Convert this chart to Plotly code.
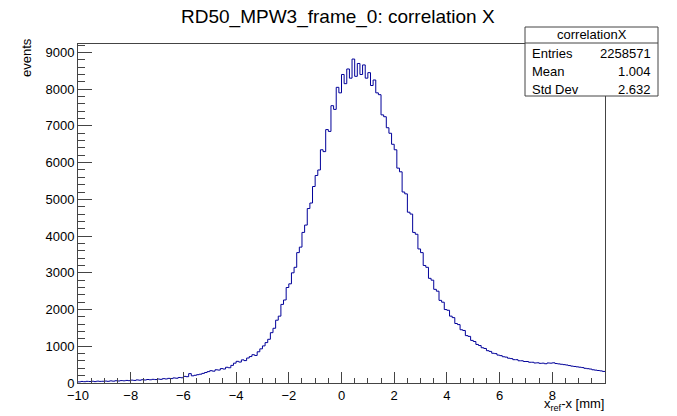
import numpy as np
import plotly.graph_objects as go

# histogram "correlationX": 200 bins of 0.1 mm from -10 to 10
bin_lo = -10.0
bin_width = 0.1
counts = [
    30, 42, 36, 45, 40, 48, 38, 50, 44, 47,            # -10 .. -9
    52, 46, 58, 50, 62, 55, 66, 60, 70, 64,            # -9 .. -8
    78, 70, 84, 76, 90, 82, 95, 88, 100, 94,           # -8 .. -7
    108, 100, 118, 110, 126, 120, 138, 130, 150, 142,  # -7 .. -6
    180, 172, 255, 195, 210, 226, 240, 262, 285, 310,  # -6 .. -5
    335, 322, 360, 352, 392, 380, 428, 415, 480, 540,  # -5 .. -4
    590, 570, 630, 610, 680, 720, 770, 750, 850, 930,  # -4 .. -3
    1010, 1100, 1190, 1370, 1490, 1710, 1820, 2140, 2260, 2600,  # -3 .. -2
    2700, 3000, 3150, 3550, 3700, 4100, 4300, 4750, 4900, 5350,  # -2 .. -1
    5650, 5800, 6350, 6300, 6900, 6850, 7550, 7450, 8050, 7900,  # -1 .. 0
    8400, 8150, 8550, 8300, 8820, 8350, 8700, 8400, 8660, 8300,  # 0 .. 1
    8450, 8100, 8250, 7900, 7850, 7300, 7250, 6950, 6800, 6500,  # 1 .. 2
    6350, 5850, 5750, 5200, 5150, 4650, 4600, 4100, 4050, 3650,  # 2 .. 3
    3550, 3200, 3150, 2850, 2800, 2550, 2500, 2250, 2200, 2000,  # 3 .. 4
    1980, 1820, 1780, 1620, 1590, 1450, 1430, 1290, 1270, 1160,  # 4 .. 5
    1130, 1050, 1020, 960, 940, 880, 860, 810, 800, 760,         # 5 .. 6
    745, 715, 705, 675, 665, 635, 635, 605, 605, 585,            # 6 .. 7
    585, 565, 565, 545, 550, 535, 540, 525, 545, 540,            # 7 .. 8
    550, 530, 520, 510, 500, 490, 475, 460, 450, 440,            # 8 .. 9
    430, 420, 400, 390, 380, 360, 350, 340, 330, 315,            # 9 .. 10
]

x_tick_vals = [-10, -8, -6, -4, -2, 0, 2, 4, 6, 8]
x_tick_text = ["\u221210", "\u22128", "\u22126", "\u22124", "\u22122", "0", "2", "4", "6", "8"]
y_tick_vals = [0, 1000, 2000, 3000, 4000, 5000, 6000, 7000, 8000, 9000]

title = "RD50_MPW3_frame_0: correlation X"
stats_name = "correlationX"
stats_rows = [("Entries", "2258571"), ("Mean", "1.004"), ("Std Dev", "2.632")]

# the page body has an 8px margin, so the figure is 8px smaller and
# everything is placed in page pixels shifted by that margin
OFF = 8
W, H = 677 - OFF, 416 - OFF
L, R, T, B = 78 - OFF, 605 - OFF, 44 - OFF, 383 - OFF

def px(x):
    return (x - OFF - L) / (R - L)

def py(y):
    return (B - (y - OFF)) / (B - T)

edges = bin_lo + bin_width * np.arange(len(counts) + 1)
yvals = counts + [counts[-1]]

font = "Liberation Sans, Arial, sans-serif"
col = "rgb(0,0,153)"
line_col = "#444"

fig = go.Figure()
fig.add_trace(go.Scatter(
    x=edges, y=yvals, mode="lines", line_shape="hv",
    line=dict(color=col, width=1), hoverinfo="skip", showlegend=False
))

axis_common = dict(
    showgrid=False, zeroline=False, showline=True, mirror=True,
    linecolor=line_col, linewidth=1, ticks="inside", tickcolor=line_col,
    tickfont=dict(family=font, size=13, color="black"),
)

fig.update_layout(
    width=W, height=H,
    margin=dict(l=L, r=W - R, t=T, b=H - B, autoexpand=False),
    plot_bgcolor="white", paper_bgcolor="white",
    xaxis=dict(range=[-10, 10], tickvals=x_tick_vals, ticktext=x_tick_text,
               ticklen=11, tickwidth=1, automargin=False,
               minor=dict(dtick=0.5, tick0=-10, ticks="inside", ticklen=5, tickcolor=line_col),
               **axis_common),
    yaxis=dict(range=[0, 9230], tickvals=y_tick_vals, ticklen=14, tickwidth=1, automargin=False,
               minor=dict(dtick=200, tick0=0, ticks="inside", ticklen=7, tickcolor=line_col),
               **axis_common),
)

def label(text, x, y, size=13, xanchor="center", angle=0):
    fig.add_annotation(text=text, xref="paper", yref="paper", x=px(x), y=py(y),
                       xanchor=xanchor, yanchor="middle", textangle=angle, showarrow=False,
                       font=dict(family=font, size=size, color="black"))

# title and axis titles
label(title, 338, 17, size=19)
label("events", 26, 58, angle=-90)
label("x<sub>ref</sub>-x [mm]", 606, 404, xanchor="right")

# stats box
bx0, bx1, by0, by1, bsep = 525, 658, 27, 96, 43
fig.add_shape(type="rect", xref="paper", yref="paper",
              x0=px(bx0), x1=px(bx1), y0=py(by1), y1=py(by0),
              line=dict(color=line_col, width=1), fillcolor="white", layer="above")
fig.add_shape(type="line", xref="paper", yref="paper",
              x0=px(bx0), x1=px(bx1), y0=py(bsep), y1=py(bsep),
              line=dict(color=line_col, width=1), layer="above")
label(stats_name, (bx0 + bx1) / 2, 35)
for i, (k, v) in enumerate(stats_rows):
    label(k, bx0 + 5, 53 + i * 18, xanchor="left")
    label(v, bx1 - 5, 53 + i * 18, xanchor="right")

fig.write_html("out.html")
